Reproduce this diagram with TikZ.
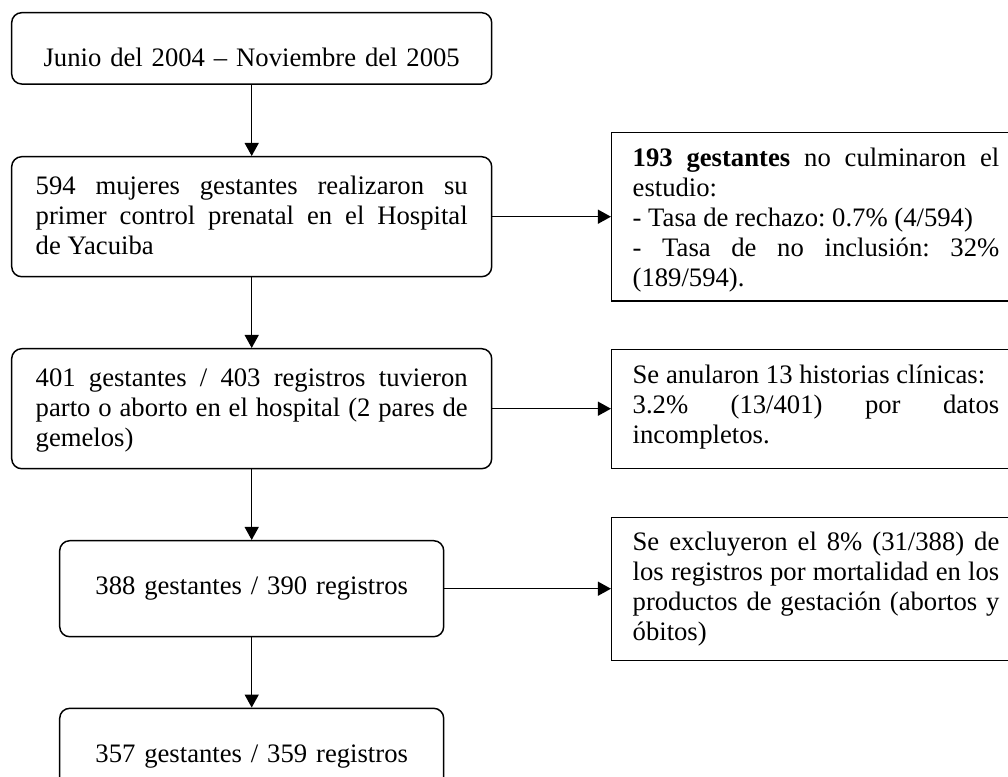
\documentclass[tikz,border=0pt]{standalone}
\usepackage{fontspec}
\setmainfont{Liberation Serif}
\usetikzlibrary{arrows.meta}
\frenchspacing
\hyphenpenalty=10000
\hbadness=10000
\tolerance=10000

\tikzset{
  roundbox/.style={draw, line width=1.1pt, rounded corners=7.5pt, inner ysep=0pt, inner xsep=18pt,
    text width=324pt, align=justify, font=\fontsize{20}{22.5}\selectfont},
  sidebox/.style={draw, line width=1.1pt, inner ysep=0pt, inner xsep=15.75pt,
    text width=275pt, align=justify, font=\fontsize{20}{22.5}\selectfont},
  flowarrow/.style={line width=1pt, -{Triangle[length=9.75pt,width=10.5pt]}}
}

\begin{document}
\begin{tikzpicture}[x=0.75pt,y=0.75pt,yscale=-1,xscale=1]
%set diagram left start at 0, and has height of 776
\clip (0,0) rectangle (1008,776);

%Rounded Rect
\node [roundbox, align=center, text height=40.5pt, text depth=13pt] (periodo) at (251.7,48.35) {Junio del 2004 -- Noviembre del 2005};
%Rounded Rect
\node [roundbox, text height=28.5pt, text depth=61.5pt] (control) at (251.7,216.7) {594 mujeres gestantes realizaron su\linebreak primer control prenatal en el Hospital\linebreak de Yacuiba};
%Rounded Rect
\node [roundbox, text height=28.5pt, text depth=61.5pt] (parto) at (251.7,408.7) {401 gestantes / 403 registros tuvieron\linebreak parto o aborto en el hospital (2 pares de\linebreak gemelos)};
%Rounded Rect
\node [roundbox, align=center, text width=252pt, text height=40.7pt, text depth=31.3pt] (validos) at (251.7,588.7) {388 gestantes / 390 registros};
%Rounded Rect
\node [roundbox, align=center, text width=252pt, text height=40.5pt, text depth=31.5pt] (final) at (251.7,756.3) {357 gestantes / 359 registros};

%Shape: Rectangle
\node [sidebox, text height=25.5pt, text depth=100.7pt] (perdidas) at (816,216.85) {\textbf{193 gestantes} no culminaron el\linebreak estudio:\\- Tasa de rechazo: 0.7\% (4/594)\\- Tasa de no inclusión: 32\%\linebreak (189/594).};
%Shape: Rectangle
\node [sidebox, text height=25.5pt, text depth=63.75pt] (anuladas) at (816,408.8) {Se anularon 13 historias clínicas:\\3.2\% (13/401) por datos\linebreak incompletos.};
%Shape: Rectangle
\node [sidebox, text height=25pt, text depth=82.5pt] (excluidas) at (816,589) {Se excluyeron el 8\% (31/388) de\linebreak los registros por mortalidad en los\linebreak productos de gestación (abortos y\linebreak óbitos)};

%Straight Lines
\draw [flowarrow] (periodo) -- (control);
\draw [flowarrow] (control) -- (parto);
\draw [flowarrow] (parto) -- (validos);
\draw [flowarrow] (validos) -- (final);
%Straight Lines
\draw [flowarrow] (control.east) -- (control.east -| perdidas.west);
\draw [flowarrow] (parto.east) -- (parto.east -| anuladas.west);
\draw [flowarrow] (validos.east) -- (validos.east -| excluidas.west);

\end{tikzpicture}
\end{document}
